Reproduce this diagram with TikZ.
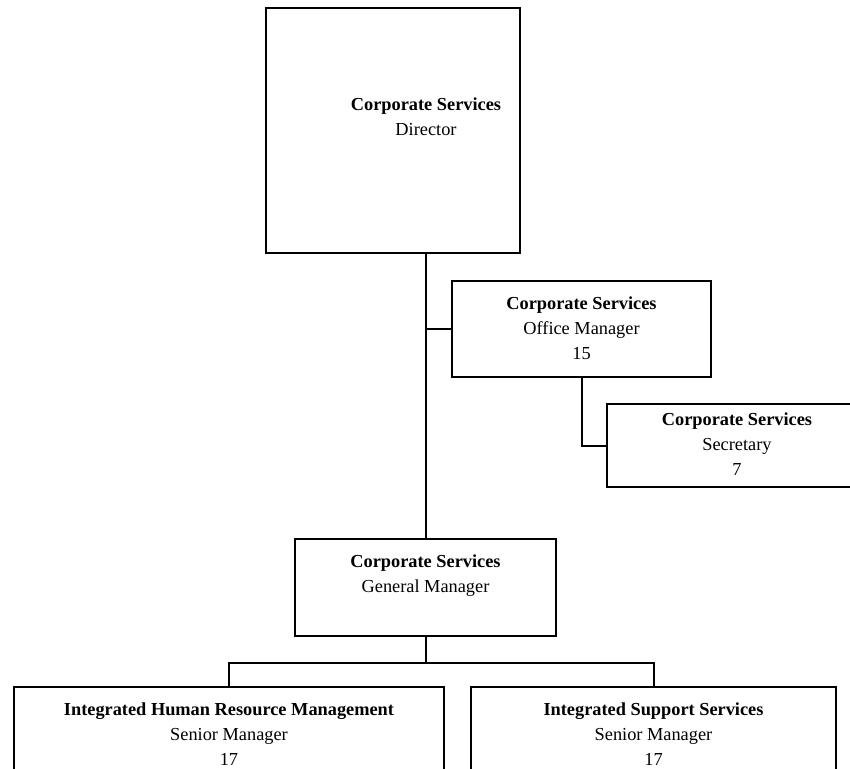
\documentclass[tikz,border=0pt]{standalone}
\usepackage{fontspec}
\setmainfont{Liberation Serif}
\usetikzlibrary{calc}
\begin{document}
\begin{tikzpicture}[x=0.75pt,y=-0.75pt,
  orgbox/.style 2 args={draw=black, line width=1.5pt, fill=white,
    minimum width=#1*0.75pt, minimum height=#2*0.75pt, inner sep=0pt,
    align=center, font=\fontsize{13.75pt}{18.75pt}\selectfont},
  orgtext/.style={inner sep=0pt, align=center,
    font=\fontsize{13.75pt}{18.75pt}\selectfont},
  link/.style={draw=black, line width=1.5pt}]
\useasboundingbox (0,0) rectangle (850,768);
\clip (0,0) rectangle (850,768);

% boxes
\node[orgbox={254}{245}] (dir) at (393,130.5) {};
\node[orgtext] (dirtext) at (426,130.5)
  {\strut\textbf{Corporate Services}\\\strut Director\\\strut};
\node[orgbox={259}{96}] (om) at (581.5,329)
  {\strut\textbf{Corporate Services}\\\strut Office Manager\\\strut 15};
\node[orgbox={260}{83}] (sec) at (737,445.5)
  {\strut\textbf{Corporate Services}\\\strut Secretary\\\strut 7};
\node[orgbox={261}{97}] (gm) at (425.5,587.5)
  {\strut\textbf{Corporate Services}\\\strut General Manager\\\strut};
\node[orgbox={430}{96}] (ihrm) at (229,735)
  {\strut\textbf{Integrated Human Resource Management}\\\strut Senior Manager\\\strut 17};
\node[orgbox={365}{96}] (iss) at (653.5,735)
  {\strut\textbf{Integrated Support Services}\\\strut Senior Manager\\\strut 17};

% connectors
\coordinate (bus) at ($(gm.south)+(0,26)$);
\draw[link] (gm.north) -- (gm.north |- dir.south);
\draw[link] (om.west) -- (om.west -| gm.north);
\draw[link] (om.south) |- (sec.west);
\draw[link] (gm.south) -- (bus);
\draw[link] (ihrm.north) |- (bus) -| (iss.north);
\end{tikzpicture}
\end{document}
